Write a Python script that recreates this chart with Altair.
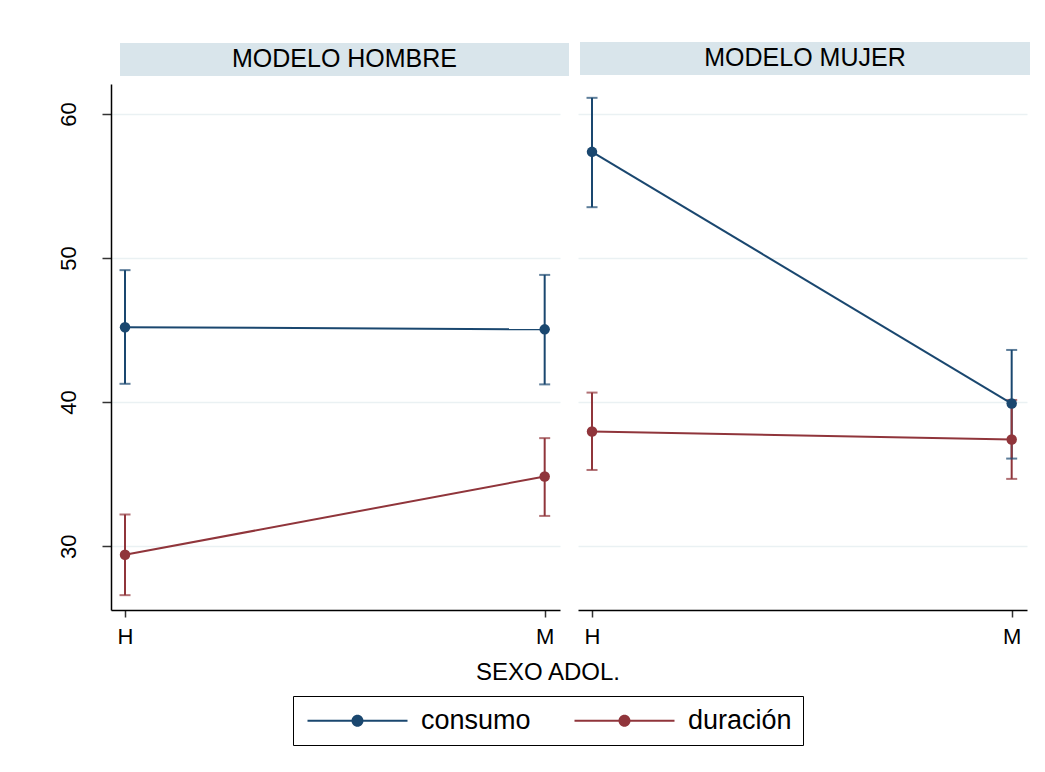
import json
import altair as alt
import pandas as pd

FONT = "Liberation Sans"

modelos = ["MODELO HOMBRE", "MODELO MUJER"]
sexo = ["H", "M"]
series = ["consumo", "duración"]
colores = ["#1a476f", "#90353b"]
titulo_x = "SEXO ADOL."

# MODELO HOMBRE
consumo_hombre = [45.20, 45.05]
consumo_hombre_lo = [41.27, 41.23]
consumo_hombre_hi = [49.16, 48.83]
duracion_hombre = [29.40, 34.84]
duracion_hombre_lo = [26.60, 32.10]
duracion_hombre_hi = [32.20, 37.50]
# MODELO MUJER
consumo_mujer = [57.37, 39.90]
consumo_mujer_lo = [53.53, 36.08]
consumo_mujer_hi = [61.12, 43.62]
duracion_mujer = [37.96, 37.41]
duracion_mujer_lo = [35.29, 34.67]
duracion_mujer_hi = [40.66, 40.15]

y_ticks = [30, 40, 50, 60]

tabla = {
    ("MODELO HOMBRE", "consumo"): (consumo_hombre, consumo_hombre_lo, consumo_hombre_hi),
    ("MODELO HOMBRE", "duración"): (duracion_hombre, duracion_hombre_lo, duracion_hombre_hi),
    ("MODELO MUJER", "consumo"): (consumo_mujer, consumo_mujer_lo, consumo_mujer_hi),
    ("MODELO MUJER", "duración"): (duracion_mujer, duracion_mujer_lo, duracion_mujer_hi),
}
color_de = dict(zip(series, colores))

rows = []
for m in modelos:
    for s in series:
        med, lo, hi = tabla[(m, s)]
        for i, sx in enumerate(sexo):
            rows.append({"modelo": m, "serie": s, "hex": color_de[s], "pos": i,
                         "sexo": sx, "media": med[i], "lo": lo[i], "hi": hi[i]})
df = pd.DataFrame(rows)

W, H = 449, 526
cscale = alt.Scale(domain=series, range=colores)
xscale = alt.Scale(domain=[-0.0334, 1.0365], nice=False, zero=False)
yscale = alt.Scale(domain=[25.57, 62.08], nice=False, zero=False)

# legend glyph (units of 10px, symbol centre 10px from entry start):
# a 100px bar with a dot in its middle (fill only)
legend_path = ("M-1,-0.1L9,-0.1L9,0.1L-1,0.1Z"
               "M3.4,0A0.6,0.6,0,1,1,4.6,0A0.6,0.6,0,1,1,3.4,0Z")
leg = alt.Legend(title=None, symbolType=legend_path, symbolSize=400,
                 symbolStrokeWidth=0, symbolOpacity=1, orient="none",
                 direction="horizontal", legendX=182, legendY=612)

label_expr = f"{json.dumps(sexo)}[datum.value]"


def panel(modelo, show_y, strip_x, strip_y, text_x):
    d = df[df["modelo"] == modelo]
    base = alt.Chart(d)
    xax = alt.Axis(values=[0, 1], labelExpr=label_expr, title=None, grid=False,
                   labelFontSize=22, tickSize=7, labelPadding=9, labelFlush=False,
                   labelAngle=0)
    if show_y:
        yax = alt.Axis(values=y_ticks, title=None, labelAngle=270, labelFontSize=22,
                       tickSize=9, labelPadding=22, grid=True, labelFlush=False)
    else:
        yax = alt.Axis(values=y_ticks, title=None, labels=False, ticks=False,
                       domain=False, grid=True)
    x = alt.X("pos:Q", scale=xscale, axis=xax)
    col = alt.Color("hex:N", scale=None)

    rules = base.mark_rule(strokeWidth=2).encode(
        x=x, y=alt.Y("lo:Q", scale=yscale, axis=yax), y2="hi:Q", color=col)
    cap_lo = base.mark_tick(orient="horizontal", size=11, thickness=2).encode(
        x=x, y=alt.Y("lo:Q", scale=yscale), color=col)
    cap_hi = base.mark_tick(orient="horizontal", size=11, thickness=2).encode(
        x=x, y=alt.Y("hi:Q", scale=yscale), color=col)
    line = base.mark_line(strokeWidth=2).encode(
        x=x, y=alt.Y("media:Q", scale=yscale), color=col, detail="serie:N")
    pts = base.mark_point(filled=True, size=110, opacity=1, fillOpacity=1).encode(
        x=x, y=alt.Y("media:Q", scale=yscale),
        color=alt.Color("serie:N", scale=cscale, legend=leg))

    sdf = pd.DataFrame({"modelo": [modelo]})
    strip = alt.Chart(sdf).mark_rect(color="#d9e5eb").encode(
        x=alt.value(strip_x[0]), x2=alt.value(strip_x[1]),
        y=alt.value(strip_y[0]), y2=alt.value(strip_y[1]))
    stext = alt.Chart(sdf).mark_text(font=FONT, fontSize=25, color="black",
                                     baseline="middle", align="center").encode(
        text="modelo:N", x=alt.value(text_x), y=alt.value((strip_y[0] + strip_y[1]) / 2 - 0.5))
    layers = [rules, cap_lo, cap_hi, line, pts, strip, stext]
    if show_y:
        tdf = pd.DataFrame({"t": [titulo_x]})
        ttext = alt.Chart(tdf).mark_text(font=FONT, fontSize=24, color="black",
                                         baseline="middle", align="center").encode(
            text="t:N", x=alt.value(437), y=alt.value(589))
        layers.append(ttext)
    return alt.layer(*layers).properties(width=W, height=H)


left = panel("MODELO HOMBRE", True, (9, 458), (-41, -8), 233.5)
right = panel("MODELO MUJER", False, (2, 452), (-42, -9), 227)

chart = alt.hconcat(left, right, spacing=18, bounds="flush").properties(
    padding={"left": 49, "top": 34, "right": 5, "bottom": 5},
    background="white",
).configure_view(stroke=None).configure_axis(
    labelFont=FONT, labelColor="black", domainColor="black", domainWidth=1.5,
    tickColor="#333333", tickWidth=1.5, gridColor="#eaf1f3", gridWidth=1.5,
).configure_legend(
    labelFont=FONT, labelFontSize=27, labelColor="black", labelOffset=90,
    columnPadding=40, padding=11, strokeColor="black", labelLimit=400,
    symbolOpacity=1,
)

chart.save("out.html", embed_options={"renderer": "svg", "actions": False})
